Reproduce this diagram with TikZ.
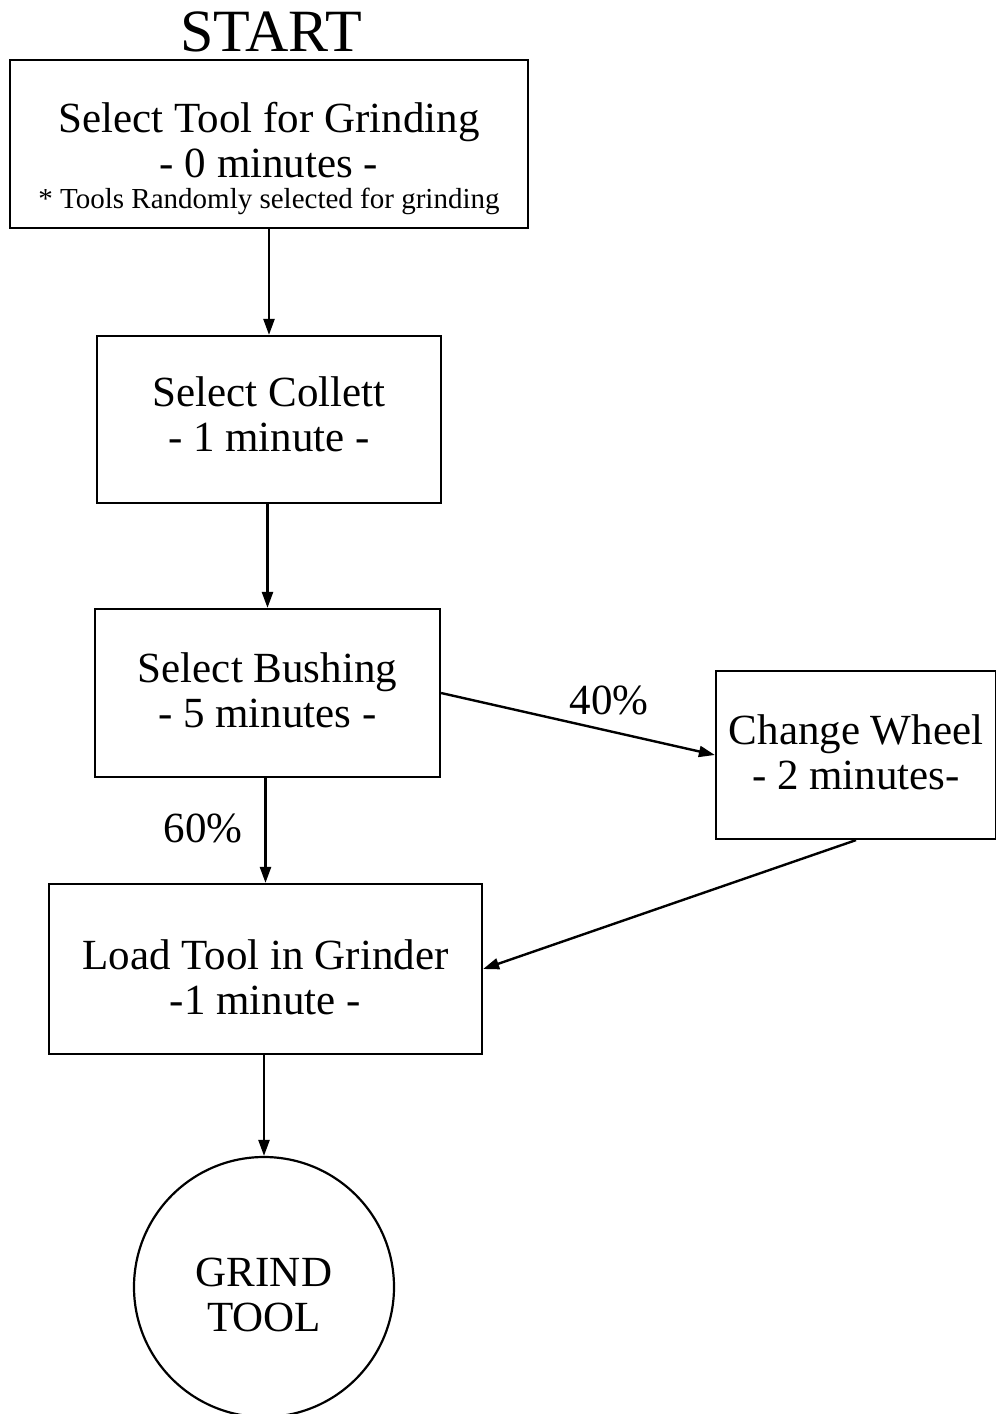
\documentclass[tikz,border=0pt]{standalone}
\usepackage{fontspec}
\setmainfont{Liberation Serif}
\usetikzlibrary{arrows.meta}
\newcommand\mainsize{\fontsize{21.5}{22.5}\selectfont}
\newcommand\smallnote{\fontsize{14.5}{16}\selectfont}
\begin{document}
\begin{tikzpicture}[x=0.5pt,y=-0.5pt,
  box/.style={draw, line width=1.1pt, rectangle, inner sep=0pt},
  txt/.style={inner sep=0pt, align=center, font=\mainsize},
  conn/.style={line width=1.2pt, -{Triangle[length=8pt,width=5.5pt]}},
  lbl/.style={inner sep=0pt, font=\mainsize}]
\useasboundingbox (0,0) rectangle (996,1414);
\node[inner sep=0pt, font=\fontsize{30}{32}\selectfont] (start) at (271,32) {START};
\node[box, minimum width=259pt, minimum height=84pt,
  label={[txt, name=b1t, yshift=-7pt]center:{Select Tool for Grinding\\- 0 minutes -\\[-7pt]{\smallnote * Tools Randomly selected for grinding}}}] (b1) at (269,144) {};
\node[box, minimum width=172pt, minimum height=83.5pt,
  label={[txt, name=b2t, yshift=2.5pt]center:{Select Collett\\- 1 minute -}}] (b2) at (269,419.5) {};
\node[box, minimum width=172.5pt, minimum height=84pt,
  label={[txt, name=b3t, yshift=1.5pt]center:{Select Bushing\\- 5 minutes -}}] (b3) at (267.5,693) {};
\node[box, minimum width=140pt, minimum height=84pt,
  label={[txt, name=b4t, yshift=1.5pt]center:{Change Wheel\\- 2 minutes-}}] (b4) at (856,755) {};
\node[box, minimum width=216.5pt, minimum height=85pt,
  label={[txt, name=b5t, yshift=-4pt]center:{Load Tool in Grinder\\-1 minute -}}] (b5) at (265.5,969) {};
\node[draw, line width=1.1pt, circle, inner sep=0pt, minimum size=130pt,
  label={[txt, name=ct, yshift=-4pt]center:{GRIND\\TOOL}}] (c) at (264,1287) {};
\node[lbl] (p40) at (609,700) {40\%};
\node[lbl] (p60) at (203,828) {60\%};
\draw[conn] (b1) -- (b2);
\draw[conn] (b3.north |- b2.south) -- (b3.north);
\draw[conn] (b5.north |- b3.south) -- (b5.north);
\draw[conn] (b3.east) -- (b4.west);
\draw[conn] (b4.south) -- (b5.east);
\draw[conn] (c.north |- b5.south) -- (c.north);
\end{tikzpicture}
\end{document}
